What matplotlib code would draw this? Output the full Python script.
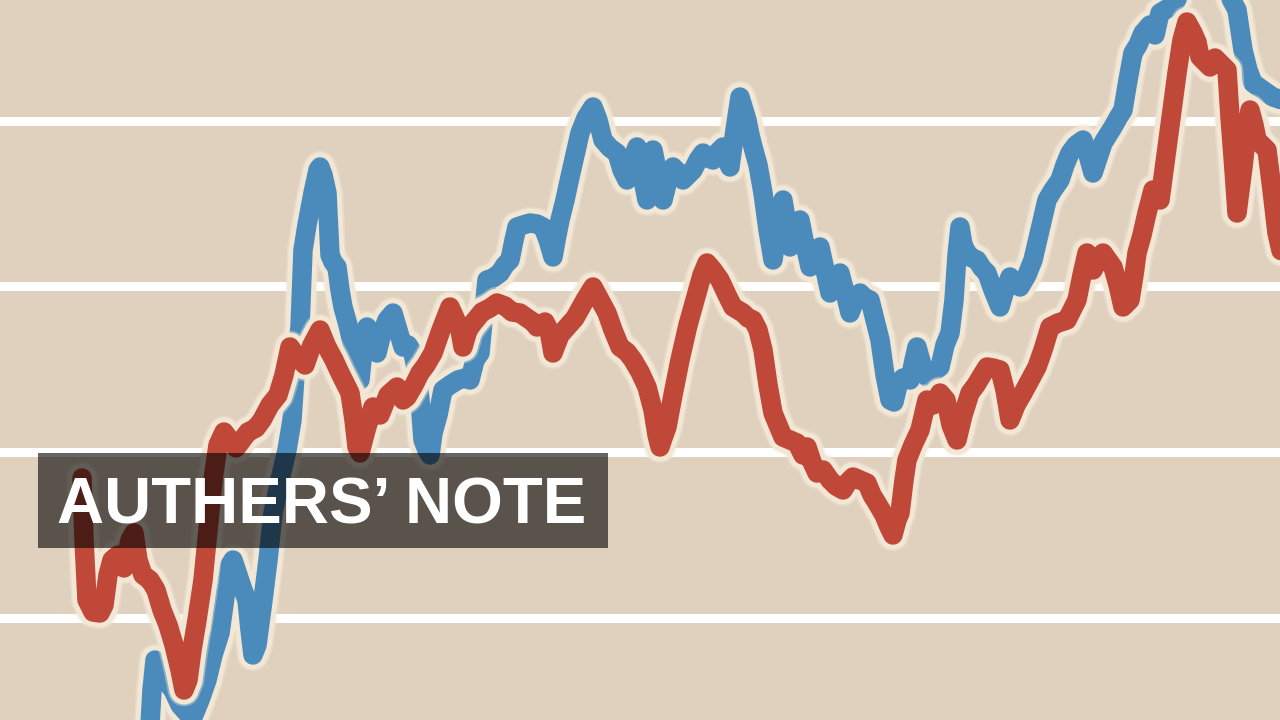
import matplotlib
matplotlib.use("Agg")
import matplotlib.pyplot as plt
import matplotlib.patheffects as pe
from matplotlib.patches import Rectangle

# time steps and index levels
red_t = [82, 84, 87, 93, 100, 104, 108, 112, 118, 124, 130, 134, 138, 143, 150, 156, 162, 168, 174, 180,
         184, 188, 192, 197, 203, 208, 213, 218, 224, 230, 236, 242, 248, 256, 262, 270, 278, 284, 290, 297,
         305, 312, 320, 327, 334, 340, 346, 350, 354, 357, 360, 366, 373, 380, 388, 397, 403, 407, 414, 420,
         426, 433, 441, 450, 455, 460, 463, 468, 473, 482, 490, 497, 505, 512, 520, 527, 533, 537, 545, 549,
         553, 560, 567, 575, 585, 593, 600, 607, 613, 620, 627, 633, 640, 647, 653, 657, 660, 663, 667, 673,
         680, 688, 697, 702, 707, 713, 720, 727, 733, 738, 743, 748, 753, 758, 763, 768, 773, 778, 783, 790,
         797, 803, 807, 812, 817, 823, 830, 836, 843, 848, 853, 860, 867, 872, 877, 884, 889, 893, 897, 900,
         904, 907, 913, 920, 927, 933, 940, 946, 951, 957, 963, 970, 976, 982, 987, 993, 1000, 1005, 1010, 1016,
         1023, 1030, 1037, 1043, 1050, 1058, 1067, 1072, 1077, 1082, 1087, 1093, 1098, 1103, 1108, 1113, 1118, 1123, 1130, 1134,
         1137, 1142, 1147, 1153, 1160, 1164, 1167, 1172, 1177, 1182, 1187, 1193, 1197, 1200, 1205, 1210, 1215, 1220, 1227, 1230,
         1234, 1237, 1240, 1243, 1247, 1250, 1254, 1257, 1262, 1267, 1272, 1277, 1282]
red_level = [242, 180, 120, 108, 107, 115, 145, 160, 165, 152, 180, 187, 160, 145, 140, 130, 110, 95, 75, 50,
             30, 40, 70, 100, 140, 190, 240, 275, 288, 280, 272, 280, 288, 292, 300, 315, 325, 345, 373, 363,
             355, 375, 390, 373, 360, 347, 335, 327, 300, 273, 267, 290, 313, 305, 325, 333, 320, 323, 335, 347,
             355, 367, 390, 413, 402, 390, 373, 390, 397, 408, 412, 417, 414, 408, 407, 402, 398, 393, 398, 390,
             367, 385, 393, 402, 420, 433, 420, 407, 390, 373, 368, 360, 348, 333, 310, 285, 273, 282, 293, 325,
             360, 395, 427, 445, 457, 450, 440, 425, 413, 410, 407, 402, 400, 390, 370, 335, 307, 295, 283, 280,
             277, 265, 273, 258, 247, 250, 240, 234, 230, 238, 243, 240, 237, 225, 217, 205, 193, 185, 200, 207,
             240, 260, 275, 290, 320, 315, 327, 320, 295, 280, 305, 327, 335, 345, 353, 352, 350, 330, 300, 315,
             327, 340, 353, 370, 393, 397, 400, 410, 420, 445, 467, 450, 460, 467, 460, 453, 435, 413, 420, 445,
             467, 485, 507, 530, 520, 550, 573, 610, 647, 680, 698, 687, 678, 663, 658, 653, 662, 657, 650, 603,
             550, 507, 530, 553, 590, 610, 595, 580, 575, 570, 530, 487, 465]

blue_t = [150, 152, 155, 160, 165, 173, 180, 187, 193, 200, 207, 213, 220, 226, 230, 233, 238, 243, 247, 250,
          253, 257, 263, 268, 273, 280, 287, 292, 296, 300, 303, 307, 313, 318, 320, 323, 327, 330, 333, 337,
          340, 343, 348, 353, 357, 360, 364, 367, 372, 377, 382, 387, 393, 398, 403, 408, 413, 417, 420, 423,
          427, 430, 433, 438, 443, 450, 458, 465, 470, 475, 480, 484, 487, 493, 500, 505, 510, 514, 517, 523,
          530, 537, 543, 548, 553, 557, 560, 565, 570, 575, 580, 586, 593, 598, 603, 610, 617, 622, 627, 632,
          637, 642, 647, 650, 653, 658, 663, 668, 673, 678, 683, 688, 693, 698, 703, 708, 713, 718, 723, 727,
          730, 735, 740, 744, 747, 750, 753, 758, 763, 768, 773, 778, 783, 787, 790, 795, 800, 805, 810, 815,
          820, 825, 830, 835, 840, 845, 850, 855, 860, 865, 870, 875, 880, 885, 890, 894, 898, 903, 910, 914,
          917, 922, 927, 933, 940, 945, 950, 954, 957, 960, 963, 967, 972, 977, 982, 987, 993, 1000, 1005, 1010,
          1015, 1020, 1027, 1033, 1040, 1047, 1053, 1060, 1065, 1070, 1076, 1083, 1088, 1093, 1098, 1103, 1108, 1113, 1118, 1123,
          1128, 1133, 1138, 1143, 1150, 1155, 1160, 1165, 1170, 1175, 1180, 1190, 1200, 1210, 1220, 1230, 1237, 1240, 1243, 1248,
          1253, 1260, 1267, 1273, 1282]
blue_level = [-5, 30, 60, 52, 40, 30, 15, 7, 3, 20, 40, 65, 87, 130, 155, 160, 145, 130, 120, 90,
              65, 75, 120, 160, 207, 240, 270, 300, 360, 393, 470, 495, 527, 550, 553, 545, 527, 465, 458, 453,
              430, 413, 395, 373, 358, 340, 380, 393, 382, 367, 387, 400, 407, 390, 373, 375, 367, 347, 320, 280,
              270, 265, 287, 305, 330, 335, 340, 342, 340, 360, 367, 410, 440, 442, 447, 455, 460, 480, 493, 495,
              497, 496, 493, 480, 463, 485, 500, 520, 543, 565, 587, 602, 613, 600, 580, 572, 567, 550, 540, 560,
              573, 545, 520, 550, 570, 545, 520, 540, 553, 548, 540, 545, 550, 560, 567, 562, 560, 568, 573, 560,
              553, 590, 623, 610, 600, 585, 573, 555, 527, 490, 460, 495, 520, 495, 473, 488, 500, 475, 453, 465,
              473, 450, 427, 437, 447, 428, 407, 420, 427, 422, 420, 400, 380, 345, 320, 318, 335, 342, 340, 360,
              373, 355, 343, 348, 353, 375, 387, 420, 465, 493, 475, 467, 462, 460, 452, 447, 430, 413, 430, 443,
              437, 433, 445, 460, 490, 520, 530, 540, 555, 567, 575, 580, 565, 547, 562, 577, 585, 593, 602, 610,
              640, 667, 675, 687, 695, 685, 707, 710, 713, 718, 725, 730, 725, 725, 728, 723, 710, 690, 670, 650,
              637, 632, 627, 623, 620]

grid_levels = [102, 268, 434, 599]
title = "AUTHERS\u2019 NOTE"

BG = "#e0d1bf"
HALO = "#f2e6d4"
BLUE = "#4b8bbb"
RED = "#bf4839"

fig = plt.figure(figsize=(12.8, 7.2), dpi=100, facecolor=BG)
ax = fig.add_axes([0, 0, 1, 1])
ax.set_facecolor(BG)
ax.set_xlim(0, 1280)
ax.set_ylim(0, 720)
ax.axis("off")

for g in grid_levels:
    ax.axhline(g, color="white", lw=6.5, zorder=1)


def halo_line(t, v, color, z):
    line, = ax.plot(t, v, color=color, lw=14, zorder=z,
                    solid_joinstyle="round", solid_capstyle="round")
    line.set_path_effects([
        pe.Stroke(linewidth=23.5, foreground=HALO, alpha=0.4),
        pe.Stroke(linewidth=21, foreground=HALO),
        pe.Normal(),
    ])
    return line


halo_line(blue_t, blue_level, BLUE, 2)
halo_line(red_t, red_level, RED, 3)

# title box
ax.add_patch(Rectangle((38, 172), 570, 95, facecolor="black", alpha=0.6,
                       edgecolor="none", zorder=5))
ax.text(57, 196, title, color="white", fontsize=47, fontweight="bold",
        family="Liberation Sans", va="baseline", ha="left", zorder=6)

fig.savefig("out.png", dpi=100, facecolor=BG)
